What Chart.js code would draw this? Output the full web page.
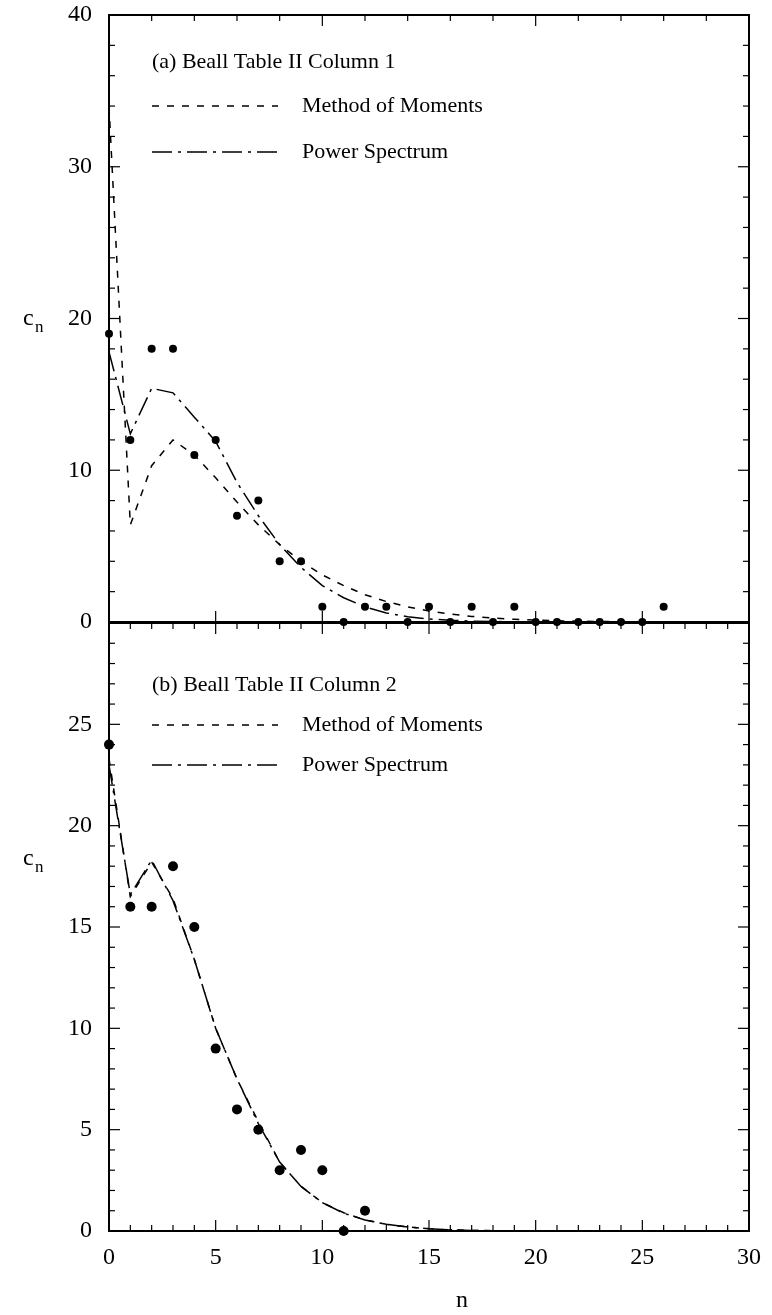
<!DOCTYPE html>
<html>
<head>
<meta charset="utf-8">
<script src="https://cdn.jsdelivr.net/npm/chart.js@4/dist/chart.umd.min.js"></script>
<style>
html,body{margin:0;padding:0;background:#fff;}
#wrap{position:relative;width:772px;height:1315px;background:#fff;overflow:hidden;}
canvas{position:absolute;left:0;}
</style>
</head>
<body>
<div id="wrap">
<canvas id="cTop" width="772" height="645" style="top:0;width:772px;height:645px;"></canvas>
<canvas id="cBot" width="772" height="705" style="top:610px;width:772px;height:705px;"></canvas>
</div>
<script>
// ---------------- DATA ----------------
const nCurve = [0,1,2,3,4,5,6,7,8,9,10,11,12,13,14,15,16,17,18,19,20,21,22,23,24,25,26,27,28,29,30];

// Panel (a): Beall Table II Column 1
const nObsA = [0,1,2,3,4,5,6,7,8,9,10,11,12,13,14,15,16,17,18,19,20,21,22,23,24,25,26];
const obsA  = [19,12,18,18,11,12,7,8,4,4,1,0,1,1,0,1,0,1,0,1,0,0,0,0,0,0,1];
const momA  = [34.0,6.4,10.3,12.0,11.0,9.5,7.9,6.4,5.1,4.0,3.1,2.4,1.8,1.35,1.0,0.72,0.52,0.37,0.26,0.18,0.12,0.08,0.05,0.03,0.02,0.01,0.01,0,0,0,0];
const psA   = [17.8,12.4,15.4,15.1,13.5,11.9,9.2,7.0,5.1,3.6,2.4,1.6,1.0,0.6,0.35,0.2,0.11,0.06,0.03,0.015,0.01,0,0,0,0,0,0,0,0,0,0];

// Panel (b): Beall Table II Column 2
const nObsB = [0,1,2,3,4,5,6,7,8,9,10,11,12];
const obsB  = [24,16,16,18,15,9,6,5,3,4,3,0,1];
const momB  = [23.3,16.5,18.2,16.4,13.4,10.0,7.5,5.4,3.4,2.2,1.4,0.9,0.55,0.33,0.2,0.11,0.06,0.03,0.015,0.008,0.004,0,0,0,0,0,0,0,0,0,0];
const psB   = [23.0,16.6,18.3,16.3,13.4,10.0,7.5,5.3,3.4,2.2,1.4,0.88,0.54,0.33,0.2,0.11,0.06,0.03,0.015,0.008,0.004,0,0,0,0,0,0,0,0,0,0];

// Tick labels
const xTickLabels = [0,5,10,15,20,25,30];
const yTicksTop = [0,10,20,30,40];
const yTicksBot = [0,5,10,15,20,25];

const legendA = ["(a) Beall Table II Column 1","Method of Moments","Power Spectrum"];
const legendB = ["(b) Beall Table II Column 2","Method of Moments","Power Spectrum"];
const yTitleMain = "c", yTitleSub = "n", xTitle = "n";

// ---------------- STYLE ----------------
const SERIF = "'Liberation Serif','Times New Roman',serif";
const DASH_MOM = [7,8];
const DASH_PS = [20,6,3,6];

function pts(xs, ys){ return xs.map((x,i)=>({x:x,y:ys[i]})); }

function lineDs(xs, ys, dash){
  return {data:pts(xs,ys), showLine:true, borderColor:'#000', borderWidth:1.5,
    borderDash:dash, pointRadius:0, tension:0, fill:false, clip:false};
}
function ptDs(xs, ys, r){
  return {data:pts(xs,ys), showLine:false, pointRadius:r, pointHoverRadius:r,
    backgroundColor:'#000', borderColor:'#000', borderWidth:0, clip:false};
}

// frame + inward ticks + legend + titles
function framePlugin(cfg){
  return {
    id:'frame'+cfg.name,
    afterDatasetsDraw(chart){
      const ctx = chart.ctx, a = chart.chartArea, xs = chart.scales.x, ys = chart.scales.y;
      ctx.save();
      ctx.strokeStyle = '#000';
      ctx.lineWidth = 1.2;
      const vt = (v, yEdge, len, dir) => { const p = xs.getPixelForValue(v); ctx.beginPath(); ctx.moveTo(p, yEdge); ctx.lineTo(p, yEdge+dir*len); ctx.stroke(); };
      const ht = (v, xEdge, len, dir) => { const p = ys.getPixelForValue(v); ctx.beginPath(); ctx.moveTo(xEdge, p); ctx.lineTo(xEdge+dir*len, p); ctx.stroke(); };
      // y ticks both sides
      for (let v = ys.min; v <= ys.max + 1e-9; v += cfg.yMinor){
        const major = Math.abs(v/cfg.yMajor - Math.round(v/cfg.yMajor)) < 1e-6;
        const len = major ? 11 : 6;
        ht(v, a.left, len, 1);
        ht(v, a.right, len, -1);
      }
      // x ticks top edge
      for (let v = 0; v <= 30; v += cfg.xTopMinor){
        const major = Math.abs(v/cfg.xTopMajor - Math.round(v/cfg.xTopMajor)) < 1e-6;
        vt(v, a.top, major ? 11 : 6, 1);
      }
      // x ticks bottom edge
      for (let v = 0; v <= 30; v += cfg.xBotMinor){
        const major = Math.abs(v/cfg.xBotMajor - Math.round(v/cfg.xBotMajor)) < 1e-6;
        if (!major && cfg.xBotOnlyMajor) continue;
        vt(v, a.bottom, major ? 11 : 6, -1);
      }
      // frame
      ctx.lineWidth = 2;
      ctx.strokeRect(a.left, a.top, a.right-a.left, a.bottom-a.top);

      // legend
      ctx.fillStyle = '#000';
      ctx.font = '22px ' + SERIF;
      ctx.textBaseline = 'middle';
      ctx.textAlign = 'left';
      const L = cfg.legend;
      ctx.fillText(L.text[0], L.x, L.y0);
      ctx.lineWidth = 1.5;
      [[DASH_MOM, L.y1, L.text[1]], [DASH_PS, L.y2, L.text[2]]].forEach(([d, yy, t]) => {
        ctx.setLineDash(d);
        ctx.beginPath(); ctx.moveTo(L.x, yy); ctx.lineTo(L.x+126, yy); ctx.stroke();
        ctx.setLineDash([]);
        ctx.fillText(t, L.x+150, yy);
      });

      // y title c_n
      ctx.textBaseline = 'alphabetic';
      ctx.font = '24px ' + SERIF;
      ctx.fillText(yTitleMain, 23, cfg.cy);
      ctx.font = '17px ' + SERIF;
      ctx.fillText(yTitleSub, 35, cfg.cy + 7);

      if (cfg.xTitle){
        ctx.font = '24px ' + SERIF;
        ctx.textAlign = 'center';
        ctx.fillText(xTitle, 462, cfg.xTitleY);
      }
      ctx.restore();
    }
  };
}

function fixY(w){ return function(s){ s.width = w; s.paddingTop = 0; s.paddingBottom = 0; }; }

const tickFont = {family:SERIF, size:24};

// ---------------- TOP CHART ----------------
new Chart(document.getElementById('cTop'), {
  type:'scatter',
  data:{datasets:[ ptDs(nObsA, obsA, 4), lineDs(nCurve, momA, DASH_MOM), lineDs(nCurve, psA, DASH_PS) ]},
  options:{
    responsive:false, animation:false, events:[],
    layout:{padding:{top:15, right:23, bottom:23, left:0}},
    plugins:{legend:{display:false}, tooltip:{enabled:false}},
    scales:{
      x:{type:'linear', min:0, max:30, display:false},
      y:{type:'linear', min:0, max:40,
        afterBuildTicks(s){ s.ticks = yTicksTop.map(v=>({value:v})); },
        afterFit: fixY(109),
        grid:{display:false, drawTicks:false}, border:{display:false},
        ticks:{font:tickFont, color:'#000', padding:17}}
    }
  },
  plugins:[framePlugin({name:'A', yMinor:2, yMajor:10, xTopMinor:2, xTopMajor:10, xBotMinor:5, xBotMajor:5, xBotOnlyMajor:true,
    legend:{x:152, y0:62, y1:106, y2:152, text:legendA}, cy:325})]
});

// ---------------- BOTTOM CHART ----------------
new Chart(document.getElementById('cBot'), {
  type:'scatter',
  data:{datasets:[ ptDs(nObsB, obsB, 5), lineDs(nCurve, momB, DASH_MOM), lineDs(nCurve, psB, DASH_PS) ]},
  options:{
    responsive:false, animation:false, events:[],
    layout:{padding:{top:13, right:23, bottom:0, left:0}},
    plugins:{legend:{display:false}, tooltip:{enabled:false}},
    scales:{
      x:{type:'linear', min:0, max:30,
        afterBuildTicks(s){ s.ticks = xTickLabels.map(v=>({value:v})); },
        afterFit(s){ s.height = 84; s.paddingLeft = 0; s.paddingRight = 0; },
        grid:{display:false, drawTicks:false}, border:{display:false},
        ticks:{font:tickFont, color:'#000', padding:12, maxRotation:0, autoSkip:false}},
      y:{type:'linear', min:0, max:30,
        afterBuildTicks(s){ s.ticks = yTicksBot.map(v=>({value:v})); },
        afterFit: fixY(109),
        grid:{display:false, drawTicks:false}, border:{display:false},
        ticks:{font:tickFont, color:'#000', padding:17}}
    }
  },
  plugins:[framePlugin({name:'B', yMinor:1, yMajor:5, xTopMinor:1, xTopMajor:5, xBotMinor:1, xBotMajor:5, xBotOnlyMajor:false,
    legend:{x:152, y0:75, y1:115, y2:155, text:legendB}, cy:255, xTitle:true, xTitleY:697})]
});
</script>
</body>
</html>
